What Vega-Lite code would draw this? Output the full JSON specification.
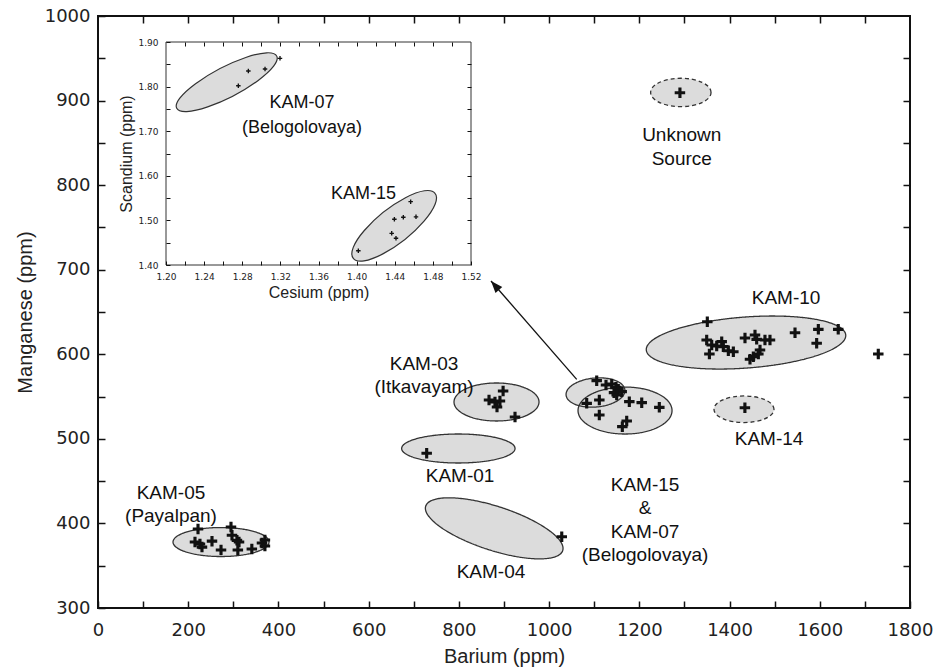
{
  "$schema": "https://vega.github.io/schema/vega-lite/v6.json",
  "autosize": {"type": "none"},
  "padding": {"left": 98, "top": 16, "right": 26, "bottom": 60},
  "width": 812,
  "height": 592,
  "background": "white",
  "config": {
    "view": {"stroke": "#111", "strokeWidth": 2},
    "font": "Liberation Sans",
    "axis": {"grid": false, "domain": false, "labelFlush": false, "labelOverlap": false, "labelBound": false, "tickColor": "#111", "tickOpacity": 1, "tickWidth": 1.5, "titleFontWeight": "normal", "labelColor": "#222", "titleColor": "#222"}
  },
  "datasets": {
    "ellipses": [
      {"group": "KAM-05", "ba": 272.7, "mn": 378},
      {"group": "KAM-03", "ba": 883.4, "mn": 543.6},
      {"group": "KAM-01", "ba": 798.8, "mn": 488.6},
      {"group": "KAM-04", "ba": 878.3, "mn": 394.2},
      {"group": "KAM-07", "ba": 1168.3, "mn": 533.5},
      {"group": "KAM-15", "ba": 1102.8, "mn": 554.8},
      {"group": "KAM-10", "ba": 1436.5, "mn": 613.9},
      {"group": "KAM-14", "ba": 1432, "mn": 535},
      {"group": "Unknown", "ba": 1292, "mn": 909.6}
    ],
    "points": [
      {"group": "KAM-05", "ba": 221.7, "mn": 393.4},
      {"group": "KAM-05", "ba": 294.8, "mn": 395.8},
      {"group": "KAM-05", "ba": 215, "mn": 378},
      {"group": "KAM-05", "ba": 226, "mn": 375.7},
      {"group": "KAM-05", "ba": 230.5, "mn": 372},
      {"group": "KAM-05", "ba": 252.7, "mn": 379},
      {"group": "KAM-05", "ba": 272.7, "mn": 368.6},
      {"group": "KAM-05", "ba": 297, "mn": 386},
      {"group": "KAM-05", "ba": 308, "mn": 380},
      {"group": "KAM-05", "ba": 312.6, "mn": 378},
      {"group": "KAM-05", "ba": 310, "mn": 368.6},
      {"group": "KAM-05", "ba": 341, "mn": 369.8},
      {"group": "KAM-05", "ba": 363.5, "mn": 376.9},
      {"group": "KAM-05", "ba": 370, "mn": 380.4},
      {"group": "KAM-05", "ba": 370, "mn": 373.3},
      {"group": "KAM-03", "ba": 898, "mn": 556.6},
      {"group": "KAM-03", "ba": 866.8, "mn": 546},
      {"group": "KAM-03", "ba": 880, "mn": 543.6},
      {"group": "KAM-03", "ba": 891, "mn": 544.8},
      {"group": "KAM-03", "ba": 884.5, "mn": 537.7},
      {"group": "KAM-03", "ba": 924.4, "mn": 525.8},
      {"group": "KAM-01", "ba": 728.6, "mn": 483},
      {"group": "KAM-04", "ba": 1028, "mn": 384.3},
      {"group": "KAM-15/07", "ba": 1105.5, "mn": 568.8},
      {"group": "KAM-15/07", "ba": 1126.1, "mn": 563.7},
      {"group": "KAM-15/07", "ba": 1138.8, "mn": 564.9},
      {"group": "KAM-15/07", "ba": 1148.3, "mn": 561},
      {"group": "KAM-15/07", "ba": 1153.4, "mn": 558.6},
      {"group": "KAM-15/07", "ba": 1143.9, "mn": 554.6},
      {"group": "KAM-15/07", "ba": 1160.9, "mn": 555.8},
      {"group": "KAM-15/07", "ba": 1149.8, "mn": 551.9},
      {"group": "KAM-15/07", "ba": 1111.3, "mn": 546},
      {"group": "KAM-15/07", "ba": 1083.3, "mn": 542},
      {"group": "KAM-15/07", "ba": 1177.8, "mn": 544},
      {"group": "KAM-15/07", "ba": 1205.3, "mn": 542.8},
      {"group": "KAM-15/07", "ba": 1244.3, "mn": 537.3},
      {"group": "KAM-15/07", "ba": 1111.3, "mn": 528.2},
      {"group": "KAM-15/07", "ba": 1172, "mn": 521.1},
      {"group": "KAM-15/07", "ba": 1162.3, "mn": 514.4},
      {"group": "KAM-10", "ba": 1350.7, "mn": 638.5},
      {"group": "KAM-10", "ba": 1349.3, "mn": 616.9},
      {"group": "KAM-10", "ba": 1360.4, "mn": 611},
      {"group": "KAM-10", "ba": 1371.5, "mn": 609.8},
      {"group": "KAM-10", "ba": 1382.6, "mn": 614.9},
      {"group": "KAM-10", "ba": 1386.2, "mn": 609},
      {"group": "KAM-10", "ba": 1355.3, "mn": 600.3},
      {"group": "KAM-10", "ba": 1397.3, "mn": 604.2},
      {"group": "KAM-10", "ba": 1408.4, "mn": 603},
      {"group": "KAM-10", "ba": 1434.2, "mn": 619.2},
      {"group": "KAM-10", "ba": 1456.4, "mn": 622.8},
      {"group": "KAM-10", "ba": 1460.1, "mn": 617.7},
      {"group": "KAM-10", "ba": 1478.5, "mn": 616.9},
      {"group": "KAM-10", "ba": 1489.6, "mn": 616.9},
      {"group": "KAM-10", "ba": 1467.5, "mn": 605.1},
      {"group": "KAM-10", "ba": 1463.8, "mn": 600.3},
      {"group": "KAM-10", "ba": 1452.7, "mn": 597.2},
      {"group": "KAM-10", "ba": 1445.3, "mn": 594.1},
      {"group": "KAM-10", "ba": 1545.1, "mn": 625.5},
      {"group": "KAM-10", "ba": 1596.8, "mn": 629.5},
      {"group": "KAM-10", "ba": 1593.1, "mn": 613},
      {"group": "KAM-10", "ba": 1640.9, "mn": 629.5},
      {"group": "KAM-10", "ba": 1729.7, "mn": 600.3},
      {"group": "KAM-14", "ba": 1434, "mn": 536.8},
      {"group": "Unknown", "ba": 1290, "mn": 909.3}
    ],
    "labels": [
      {"label": "KAM-05\n(Payalpan)", "ba": 161.8, "mn": 436},
      {"label": "KAM-03\n(Itkavayam)", "ba": 722.7, "mn": 589.1},
      {"label": "KAM-01", "ba": 802.5, "mn": 456.1},
      {"label": "KAM-04", "ba": 871.2, "mn": 342.6},
      {"label": "KAM-15\n&\nKAM-07\n(Belogolovaya)", "ba": 1212.6, "mn": 446},
      {"label": "KAM-10", "ba": 1525.2, "mn": 666.6},
      {"label": "KAM-14", "ba": 1487.5, "mn": 500.2},
      {"label": "Unknown\nSource", "ba": 1294, "mn": 858.7}
    ],
    "arrow": [
      {"ba": 1061.2, "mn": 570.4, "o": 0},
      {"ba": 871.2, "mn": 686.7, "o": 1}
    ],
    "arrowhead": [
      {"ba": 871.2, "mn": 686.7}
    ],
    "insetFrame": [
      {"cs0": 1.2, "cs1": 1.52, "sc0": 1.4, "sc1": 1.9}
    ],
    "insetEllipses": [
      {"group": "KAM-07", "cs": 1.2637, "sc": 1.8099},
      {"group": "KAM-15", "cs": 1.4394, "sc": 1.4879}
    ],
    "insetPoints": [
      {"group": "KAM-07", "cs": 1.2759, "sc": 1.802},
      {"group": "KAM-07", "cs": 1.2864, "sc": 1.835},
      {"group": "KAM-07", "cs": 1.3039, "sc": 1.8395},
      {"group": "KAM-07", "cs": 1.3196, "sc": 1.8634},
      {"group": "KAM-15", "cs": 1.4018, "sc": 1.432},
      {"group": "KAM-15", "cs": 1.4368, "sc": 1.471},
      {"group": "KAM-15", "cs": 1.4413, "sc": 1.46},
      {"group": "KAM-15", "cs": 1.4396, "sc": 1.5025},
      {"group": "KAM-15", "cs": 1.449, "sc": 1.507},
      {"group": "KAM-15", "cs": 1.4623, "sc": 1.508},
      {"group": "KAM-15", "cs": 1.4567, "sc": 1.542}
    ],
    "insetLabels": [
      {"label": "KAM-07\n(Belogolovaya)", "cs": 1.3427, "sc": 1.7643},
      {"label": "KAM-15", "cs": 1.4072, "sc": 1.5603}
    ]
  },
  "layer": [
    {
      "data": {"name": "ellipses"},
      "mark": {"type": "point", "filled": true, "size": 4, "fill": "#dcdcdc", "opacity": 1, "strokeWidth": 0},
      "encoding": {
        "x": {"field": "ba", "type": "quantitative", "scale": {"domain": [0, 1800], "nice": false, "zero": false},
          "axis": {"orient": "bottom", "offset": -7, "zindex": 2, "values": [0, 100, 200, 300, 400, 500, 600, 700, 800, 900, 1000, 1100, 1200, 1300, 1400, 1500, 1600, 1700, 1800], "format": "d", "labelExpr": "datum.value % 200 === 0 ? datum.label : ''", "ticks": true, "tickSize": 7, "encoding": {"ticks": {"update": {"y": {"signal": "datum.value % 200 === 0 ? 0 : 3"}}}}, "labelFont": "DejaVu Sans", "labelFontSize": 18, "labelPadding": 13, "title": "Barium (ppm)", "titleFont": "Liberation Sans", "titleFontSize": 20, "titlePadding": 7}},
        "y": {"field": "mn", "type": "quantitative", "scale": {"domain": [300, 1000], "nice": false, "zero": false},
          "axis": {"orient": "left", "offset": -7, "zindex": 2, "values": [300, 350, 400, 450, 500, 550, 600, 650, 700, 750, 800, 850, 900, 950, 1000], "format": "d", "labelExpr": "datum.value % 100 === 0 ? datum.label : ''", "ticks": true, "tickSize": 7, "encoding": {"ticks": {"update": {"x": {"signal": "datum.value % 100 === 0 ? 0 : -3"}}}}, "labelFont": "DejaVu Sans", "labelFontSize": 18, "labelPadding": 8, "title": "Manganese (ppm)", "titleFont": "Liberation Sans", "titleFontSize": 20, "titlePadding": 9}},
        "shape": {"field": "group", "type": "nominal", "legend": null,
          "scale": {"domain": ["KAM-05", "KAM-03", "KAM-01", "KAM-04", "KAM-07", "KAM-15", "KAM-10", "KAM-14", "Unknown"],
            "range": [
              "M 48 0 A 48 14.5 0 1 0 -48 0 A 48 14.5 0 1 0 48 0 Z",
              "M 42.5 0 A 42.5 19 0 1 0 -42.5 0 A 42.5 19 0 1 0 42.5 0 Z",
              "M 56.7 0 A 56.7 14.5 0 1 0 -56.7 0 A 56.7 14.5 0 1 0 56.7 0 Z",
              "M 68.48 22.25 A 72 22 18 1 0 -68.48 -22.25 A 72 22 18 1 0 68.48 22.25 Z",
              "M 47 0 A 47 23.5 0 1 0 -47 0 A 47 23.5 0 1 0 47 0 Z",
              "M 29.39 -2.57 A 29.5 14.5 -5 1 0 -29.39 2.57 A 29.5 14.5 -5 1 0 29.39 -2.57 Z",
              "M 99.72 -7.5 A 100 25.5 -4.3 1 0 -99.72 7.5 A 100 25.5 -4.3 1 0 99.72 -7.5 Z",
              "M 30 0 A 30 13.3 0 1 0 -30 0 A 30 13.3 0 1 0 30 0 Z",
              "M 30.2 0 A 30.2 14.2 0 1 0 -30.2 0 A 30.2 14.2 0 1 0 30.2 0 Z"
            ]}}
      }
    },
    {
      "data": {"name": "ellipses"},
      "mark": {"type": "point", "filled": false, "size": 4, "stroke": "#333", "strokeWidth": 1.3, "opacity": 1},
      "encoding": {
        "x": {"field": "ba", "type": "quantitative", "scale": {"domain": [0, 1800], "nice": false, "zero": false},
          "axis": {"orient": "top", "offset": -7, "zindex": 2, "values": [100, 200, 300, 400, 500, 600, 700, 800, 900, 1000, 1100, 1200, 1300, 1400, 1500, 1600, 1700], "ticks": true, "tickSize": 7, "encoding": {"ticks": {"update": {"y": {"signal": "datum.value % 200 === 0 ? 0 : -3"}}}}, "labels": true, "labelOpacity": 0, "labelFontSize": 6, "title": null}},
        "y": {"field": "mn", "type": "quantitative", "scale": {"domain": [300, 1000], "nice": false, "zero": false},
          "axis": {"orient": "right", "offset": -7, "zindex": 2, "values": [350, 400, 450, 500, 550, 600, 650, 700, 750, 800, 850, 900, 950], "ticks": true, "tickSize": 7, "encoding": {"ticks": {"update": {"x": {"signal": "datum.value % 100 === 0 ? 0 : 3"}}}}, "labels": true, "labelOpacity": 0, "labelFontSize": 6, "title": null}},
        "shape": {"field": "group", "type": "nominal", "legend": null,
          "scale": {"domain": ["KAM-05", "KAM-03", "KAM-01", "KAM-04", "KAM-07", "KAM-15", "KAM-10", "KAM-14", "Unknown"],
            "range": [
              "M 48 0 A 48 14.5 0 1 0 -48 0 A 48 14.5 0 1 0 48 0 Z",
              "M 42.5 0 A 42.5 19 0 1 0 -42.5 0 A 42.5 19 0 1 0 42.5 0 Z",
              "M 56.7 0 A 56.7 14.5 0 1 0 -56.7 0 A 56.7 14.5 0 1 0 56.7 0 Z",
              "M 68.48 22.25 A 72 22 18 1 0 -68.48 -22.25 A 72 22 18 1 0 68.48 22.25 Z",
              "M 47 0 A 47 23.5 0 1 0 -47 0 A 47 23.5 0 1 0 47 0 Z",
              "M 29.39 -2.57 A 29.5 14.5 -5 1 0 -29.39 2.57 A 29.5 14.5 -5 1 0 29.39 -2.57 Z",
              "M 99.72 -7.5 A 100 25.5 -4.3 1 0 -99.72 7.5 A 100 25.5 -4.3 1 0 99.72 -7.5 Z",
              "M 30 0 A 30 13.3 0 1 0 -30 0 A 30 13.3 0 1 0 30 0 Z",
              "M 30.2 0 A 30.2 14.2 0 1 0 -30.2 0 A 30.2 14.2 0 1 0 30.2 0 Z"
            ]}},
        "strokeDash": {"field": "group", "type": "nominal", "legend": null,
          "scale": {"domain": ["KAM-05", "KAM-03", "KAM-01", "KAM-04", "KAM-07", "KAM-15", "KAM-10", "KAM-14", "Unknown"],
            "range": [[1, 0], [1, 0], [1, 0], [1, 0], [1, 0], [1, 0], [1, 0], [4, 3], [4, 3]]}}
      }
    },
    {
      "data": {"name": "arrow"},
      "mark": {"type": "line", "color": "#111", "strokeWidth": 1.3},
      "encoding": {
        "x": {"field": "ba", "type": "quantitative", "scale": {"domain": [0, 1800], "nice": false, "zero": false}, "axis": null},
        "y": {"field": "mn", "type": "quantitative", "scale": {"domain": [300, 1000], "nice": false, "zero": false}, "axis": null},
        "order": {"field": "o", "type": "quantitative"}
      }
    },
    {
      "data": {"name": "arrowhead"},
      "mark": {"type": "point", "shape": "M 0 0 L -4.5 12 L 4.5 12 Z", "size": 4, "angle": 319, "filled": true, "fill": "#111", "opacity": 1, "strokeWidth": 0},
      "encoding": {
        "x": {"field": "ba", "type": "quantitative", "scale": {"domain": [0, 1800], "nice": false, "zero": false}, "axis": null},
        "y": {"field": "mn", "type": "quantitative", "scale": {"domain": [300, 1000], "nice": false, "zero": false}, "axis": null}
      }
    },
    {
      "data": {"name": "points"},
      "mark": {"type": "point", "shape": "M -0.3 -1 L 0.3 -1 L 0.3 -0.3 L 1 -0.3 L 1 0.3 L 0.3 0.3 L 0.3 1 L -0.3 1 L -0.3 0.3 L -1 0.3 L -1 -0.3 L -0.3 -0.3 Z", "size": 110, "filled": true, "fill": "#111", "opacity": 1, "strokeWidth": 0},
      "encoding": {
        "x": {"field": "ba", "type": "quantitative", "scale": {"domain": [0, 1800], "nice": false, "zero": false}, "axis": null},
        "y": {"field": "mn", "type": "quantitative", "scale": {"domain": [300, 1000], "nice": false, "zero": false}, "axis": null}
      }
    },
    {
      "data": {"name": "labels"},
      "mark": {"type": "text", "font": "Liberation Sans", "fontSize": 19, "lineBreak": "\n", "lineHeight": 23.5, "align": "center", "baseline": "middle", "color": "#111"},
      "encoding": {
        "x": {"field": "ba", "type": "quantitative", "scale": {"domain": [0, 1800], "nice": false, "zero": false}, "axis": null},
        "y": {"field": "mn", "type": "quantitative", "scale": {"domain": [300, 1000], "nice": false, "zero": false}, "axis": null},
        "text": {"field": "label", "type": "nominal"}
      }
    },
    {
      "data": {"name": "insetFrame"},
      "mark": {"type": "rect", "fill": "white", "stroke": "#333", "strokeWidth": 1},
      "encoding": {
        "x": {"field": "cs0", "type": "quantitative", "scale": {"domain": [1.2, 1.52], "range": [68, 373], "nice": false, "zero": false},
          "axis": {"orient": "bottom", "offset": -347, "zindex": 2, "values": [1.2, 1.22, 1.24, 1.26, 1.28, 1.3, 1.32, 1.34, 1.36, 1.38, 1.4, 1.42, 1.44, 1.46, 1.48, 1.5, 1.52], "format": ".2f", "labelExpr": "round(datum.value * 100) % 4 === 0 ? datum.label : ''", "ticks": true, "tickSize": 4, "tickWidth": 1, "labelFont": "DejaVu Sans", "labelFontSize": 9, "labelPadding": 7, "title": "Cesium (ppm)", "titleFont": "Liberation Sans", "titleFontSize": 16, "titlePadding": 3}},
        "x2": {"field": "cs1"},
        "y": {"field": "sc0", "type": "quantitative", "scale": {"domain": [1.4, 1.9], "range": [249, 26], "nice": false, "zero": false},
          "axis": {"orient": "left", "offset": -72, "zindex": 2, "values": [1.4, 1.45, 1.5, 1.55, 1.6, 1.65, 1.7, 1.75, 1.8, 1.85, 1.9], "format": ".2f", "labelExpr": "round(datum.value * 100) % 10 === 0 ? datum.label : ''", "ticks": true, "tickSize": 4, "tickWidth": 1, "labelFont": "DejaVu Sans", "labelFontSize": 9, "labelPadding": 8, "title": "Scandium (ppm)", "titleFont": "Liberation Sans", "titleFontSize": 16, "titlePadding": 3}},
        "y2": {"field": "sc1"}
      }
    },
    {
      "data": {"name": "insetEllipses"},
      "mark": {"type": "point", "filled": true, "size": 4, "fill": "#dcdcdc", "stroke": "#333", "strokeWidth": 1.2, "opacity": 1},
      "encoding": {
        "x": {"field": "cs", "type": "quantitative", "scale": {"domain": [1.2, 1.52], "range": [68, 373], "nice": false, "zero": false},
          "axis": {"orient": "top", "offset": -30, "zindex": 2, "values": [1.22, 1.24, 1.26, 1.28, 1.3, 1.32, 1.34, 1.36, 1.38, 1.4, 1.42, 1.44, 1.46, 1.48, 1.5], "ticks": true, "tickSize": 4, "tickWidth": 1, "labels": true, "labelOpacity": 0, "labelFontSize": 4, "title": null}},
        "y": {"field": "sc", "type": "quantitative", "scale": {"domain": [1.4, 1.9], "range": [249, 26], "nice": false, "zero": false},
          "axis": {"orient": "right", "offset": -443, "zindex": 2, "values": [1.45, 1.5, 1.55, 1.6, 1.65, 1.7, 1.75, 1.8, 1.85], "ticks": true, "tickSize": 4, "tickWidth": 1, "labels": true, "labelOpacity": 0, "labelFontSize": 4, "title": null}},
        "shape": {"field": "group", "type": "nominal", "legend": null,
          "scale": {"domain": ["KAM-07", "KAM-15"],
            "range": [
              "M 49.98 -26.13 A 56.4 15 -27.6 1 0 -49.98 26.13 A 56.4 15 -27.6 1 0 49.98 -26.13 Z",
              "M 40.85 -32.49 A 52.2 17 -38.5 1 0 -40.85 32.49 A 52.2 17 -38.5 1 0 40.85 -32.49 Z"
            ]}}
      }
    },
    {
      "data": {"name": "insetPoints"},
      "mark": {"type": "point", "shape": "M -0.3 -1 L 0.3 -1 L 0.3 -0.3 L 1 -0.3 L 1 0.3 L 0.3 0.3 L 0.3 1 L -0.3 1 L -0.3 0.3 L -1 0.3 L -1 -0.3 L -0.3 -0.3 Z", "size": 20, "filled": true, "fill": "#111", "opacity": 1, "strokeWidth": 0},
      "encoding": {
        "x": {"field": "cs", "type": "quantitative", "scale": {"domain": [1.2, 1.52], "range": [68, 373], "nice": false, "zero": false}, "axis": null},
        "y": {"field": "sc", "type": "quantitative", "scale": {"domain": [1.4, 1.9], "range": [249, 26], "nice": false, "zero": false}, "axis": null}
      }
    },
    {
      "data": {"name": "insetLabels"},
      "mark": {"type": "text", "font": "Liberation Sans", "fontSize": 18, "lineBreak": "\n", "lineHeight": 25, "align": "center", "baseline": "middle", "color": "#111"},
      "encoding": {
        "x": {"field": "cs", "type": "quantitative", "scale": {"domain": [1.2, 1.52], "range": [68, 373], "nice": false, "zero": false}, "axis": null},
        "y": {"field": "sc", "type": "quantitative", "scale": {"domain": [1.4, 1.9], "range": [249, 26], "nice": false, "zero": false}, "axis": null},
        "text": {"field": "label", "type": "nominal"}
      }
    }
  ],
  "resolve": {"scale": {"x": "independent", "y": "independent", "shape": "independent", "strokeDash": "independent"}}
}
